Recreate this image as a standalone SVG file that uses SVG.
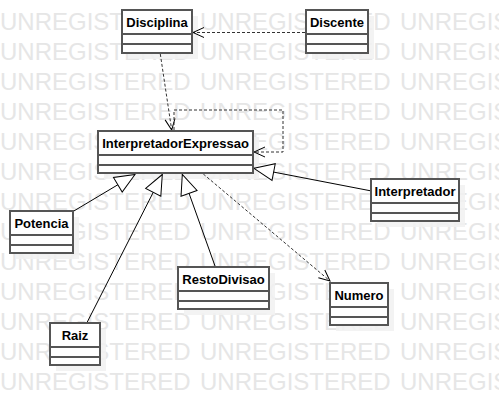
<svg xmlns="http://www.w3.org/2000/svg" width="499" height="406" viewBox="0 0 499 406">
<style>
.wm{font-family:"Liberation Sans",Arial,sans-serif;font-size:24px;fill:#e6e6e6}
.sh{fill:#f1f1f1;fill-opacity:0.85}
.box{fill:#fff;stroke:#555;stroke-width:2}
.sep{stroke:#555;stroke-width:2}
.name{font-family:"Liberation Sans",Arial,sans-serif;font-size:13px;font-weight:bold;fill:#000;text-anchor:middle}
.dep{fill:none;stroke:#333;stroke-width:1;stroke-dasharray:3,2}
.gen{fill:none;stroke:#000;stroke-width:1}
</style>
<defs>
<marker id="arrDep" markerUnits="userSpaceOnUse" viewBox="0 0 13 12" markerWidth="13" markerHeight="12" refX="12" refY="6" orient="auto">
<path d="M1,1 L12,6 L1,11" fill="none" stroke="#000" stroke-width="1"/>
</marker>
<marker id="arrGen" markerUnits="userSpaceOnUse" viewBox="0 0 22 20" markerWidth="22" markerHeight="20" refX="21" refY="10" orient="auto">
<path d="M21,10 L1,1.5 L1,18.5 Z" fill="#fff" stroke="#000" stroke-width="1"/>
</marker>
</defs>
<g id="watermark">
<text class="wm" y="30"><tspan x="0">UNREGISTERED</tspan><tspan x="200">UNREGISTERED</tspan><tspan x="400">UNREGISTERED</tspan></text>
<text class="wm" y="60"><tspan x="0">UNREGISTERED</tspan><tspan x="200">UNREGISTERED</tspan><tspan x="400">UNREGISTERED</tspan></text>
<text class="wm" y="90"><tspan x="0">UNREGISTERED</tspan><tspan x="200">UNREGISTERED</tspan><tspan x="400">UNREGISTERED</tspan></text>
<text class="wm" y="120"><tspan x="0">UNREGISTERED</tspan><tspan x="200">UNREGISTERED</tspan><tspan x="400">UNREGISTERED</tspan></text>
<text class="wm" y="150"><tspan x="0">UNREGISTERED</tspan><tspan x="200">UNREGISTERED</tspan><tspan x="400">UNREGISTERED</tspan></text>
<text class="wm" y="180"><tspan x="0">UNREGISTERED</tspan><tspan x="200">UNREGISTERED</tspan><tspan x="400">UNREGISTERED</tspan></text>
<text class="wm" y="210"><tspan x="0">UNREGISTERED</tspan><tspan x="200">UNREGISTERED</tspan><tspan x="400">UNREGISTERED</tspan></text>
<text class="wm" y="240"><tspan x="0">UNREGISTERED</tspan><tspan x="200">UNREGISTERED</tspan><tspan x="400">UNREGISTERED</tspan></text>
<text class="wm" y="270"><tspan x="0">UNREGISTERED</tspan><tspan x="200">UNREGISTERED</tspan><tspan x="400">UNREGISTERED</tspan></text>
<text class="wm" y="300"><tspan x="0">UNREGISTERED</tspan><tspan x="200">UNREGISTERED</tspan><tspan x="400">UNREGISTERED</tspan></text>
<text class="wm" y="330"><tspan x="0">UNREGISTERED</tspan><tspan x="200">UNREGISTERED</tspan><tspan x="400">UNREGISTERED</tspan></text>
<text class="wm" y="360"><tspan x="0">UNREGISTERED</tspan><tspan x="200">UNREGISTERED</tspan><tspan x="400">UNREGISTERED</tspan></text>
<text class="wm" y="390"><tspan x="0">UNREGISTERED</tspan><tspan x="200">UNREGISTERED</tspan><tspan x="400">UNREGISTERED</tspan></text>
</g>
<g id="shadows">
<rect class="sh" x="128" y="16" width="70" height="43"/>
<rect class="sh" x="312" y="16" width="62" height="43"/>
<rect class="sh" x="104" y="137" width="155" height="42"/>
<rect class="sh" x="16" y="217" width="63" height="42"/>
<rect class="sh" x="377" y="185" width="88" height="42"/>
<rect class="sh" x="184" y="273" width="91" height="42"/>
<rect class="sh" x="336" y="289" width="58" height="42"/>
<rect class="sh" x="56" y="329" width="50" height="42"/>
</g>
<g id="connectors">
<line class="dep" x1="305" y1="32.5" x2="193" y2="32.5" marker-end="url(#arrDep)"/>
<line class="dep" x1="160.3" y1="54" x2="171.7" y2="130" marker-end="url(#arrDep)"/>
<polyline class="dep" points="174,130 174,110 283,110 283,152 254,152" marker-end="url(#arrDep)"/>
<line class="dep" x1="203.3" y1="174" x2="330" y2="281" marker-end="url(#arrDep)"/>
<line class="gen" x1="73" y1="211.5" x2="135" y2="174.5" marker-end="url(#arrGen)"/>
<line class="gen" x1="87.3" y1="322" x2="162.3" y2="174.5" marker-end="url(#arrGen)"/>
<line class="gen" x1="215" y1="266" x2="182.3" y2="174.5" marker-end="url(#arrGen)"/>
<line class="gen" x1="370" y1="190.7" x2="254" y2="168.3" marker-end="url(#arrGen)"/>
</g>
<g id="Disciplina">
<rect class="box" x="122" y="10" width="70" height="43"/>
<line class="sep" x1="122" y1="34" x2="192" y2="34"/>
<line class="sep" x1="122" y1="44" x2="192" y2="44"/>
<text class="name" x="157" y="27">Disciplina</text>
</g>
<g id="Discente">
<rect class="box" x="306" y="10" width="62" height="43"/>
<line class="sep" x1="306" y1="34" x2="368" y2="34"/>
<line class="sep" x1="306" y1="44" x2="368" y2="44"/>
<text class="name" x="337" y="27">Discente</text>
</g>
<g id="InterpretadorExpressao">
<rect class="box" x="98" y="131" width="155" height="42"/>
<line class="sep" x1="98" y1="155" x2="253" y2="155"/>
<line class="sep" x1="98" y1="165" x2="253" y2="165"/>
<text class="name" x="175.5" y="147.5">InterpretadorExpressao</text>
</g>
<g id="Potencia">
<rect class="box" x="10" y="211" width="63" height="42"/>
<line class="sep" x1="10" y1="235" x2="73" y2="235"/>
<line class="sep" x1="10" y1="245" x2="73" y2="245"/>
<text class="name" x="41.5" y="227.5">Potencia</text>
</g>
<g id="Interpretador">
<rect class="box" x="371" y="179" width="88" height="42"/>
<line class="sep" x1="371" y1="203" x2="459" y2="203"/>
<line class="sep" x1="371" y1="213" x2="459" y2="213"/>
<text class="name" x="415" y="195.5">Interpretador</text>
</g>
<g id="RestoDivisao">
<rect class="box" x="178" y="267" width="91" height="42"/>
<line class="sep" x1="178" y1="291" x2="269" y2="291"/>
<line class="sep" x1="178" y1="301" x2="269" y2="301"/>
<text class="name" x="223.5" y="283.5">RestoDivisao</text>
</g>
<g id="Numero">
<rect class="box" x="330" y="283" width="58" height="42"/>
<line class="sep" x1="330" y1="307" x2="388" y2="307"/>
<line class="sep" x1="330" y1="317" x2="388" y2="317"/>
<text class="name" x="359" y="299.5">Numero</text>
</g>
<g id="Raiz">
<rect class="box" x="50" y="323" width="50" height="42"/>
<line class="sep" x1="50" y1="347" x2="100" y2="347"/>
<line class="sep" x1="50" y1="357" x2="100" y2="357"/>
<text class="name" x="75" y="339.5">Raiz</text>
</g>
</svg>
